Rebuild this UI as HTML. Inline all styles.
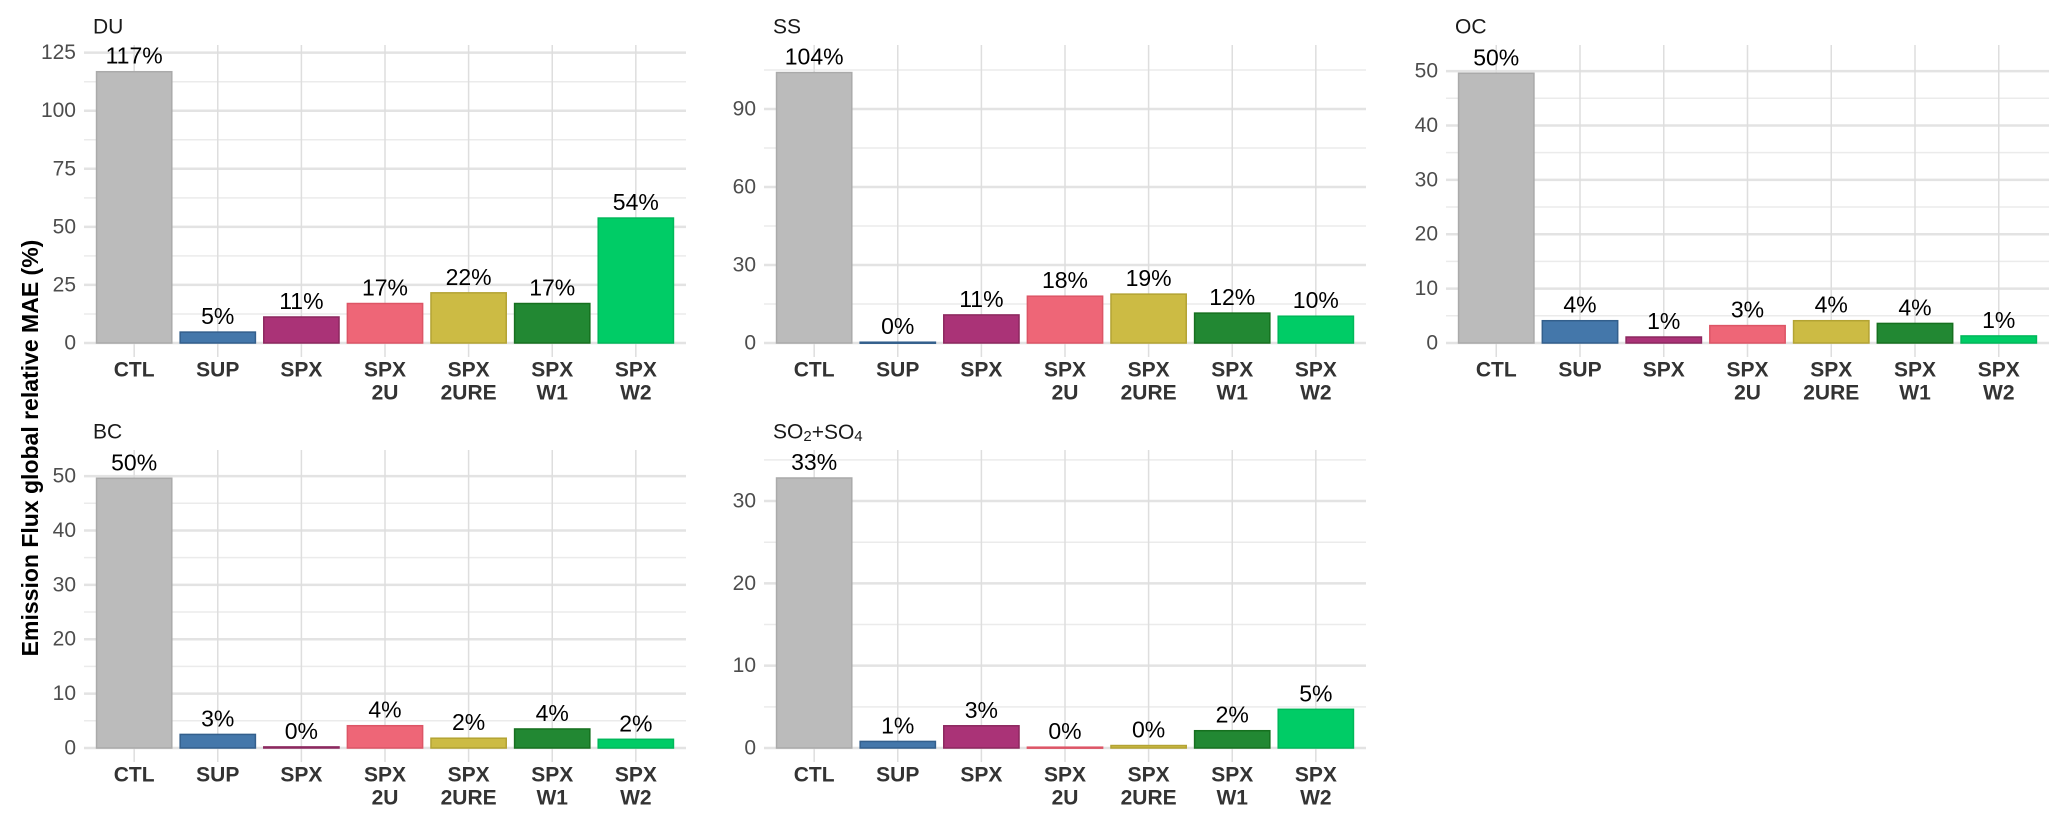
<!DOCTYPE html>
<html><head><meta charset="utf-8"><style>
html,body{margin:0;padding:0;background:#fff;}
svg{display:block;font-family:"Liberation Sans Narrow","Liberation Sans",sans-serif;}
</style></head><body>
<svg id="chart" width="2067" height="825" viewBox="0 0 2067 825">
<text x="30" y="448" transform="rotate(-90 30 448)" text-anchor="middle" dominant-baseline="central" font-family="Liberation Sans, sans-serif" font-weight="bold" font-size="23" fill="#000">Emission Flux global relative MAE (%)</text>
</svg>
<script>
const categories = ["CTL","SUP","SPX","SPX\n2U","SPX\n2URE","SPX\nW1","SPX\nW2"];
const colors = ["#bbbbbb","#4477aa","#aa3377","#ee6677","#ccbb44","#228833","#00cc66"];
const strokes = ["#aaaaaa","#335f8c","#8c285f","#dd5566","#b3a333","#16701f","#00b85a"];
const panelTitles = ["DU","SS","OC","BC","SO2+SO4"];
const duValues = [116.8,4.7,11.2,17.0,21.6,17.0,53.8];
const ssValues = [104.0,0.3,10.8,18.0,18.8,11.5,10.3];
const ocValues = [49.6,4.1,1.1,3.2,4.1,3.6,1.3];
const bcValues = [49.6,2.5,0.2,4.1,1.8,3.5,1.6];
const soValues = [32.8,0.8,2.7,0.1,0.3,2.1,4.7];
const duTicks = [0,25,50,75,100,125];
const ssTicks = [0,30,60,90];
const ocTicks = [0,10,20,30,40,50];
const bcTicks = [0,10,20,30,40,50];
const soTicks = [0,10,20,30];
const yMaxes = [128.3,114.6,54.8,54.8,36.2];

const NS="http://www.w3.org/2000/svg";
const svg=document.getElementById('chart');
function mk(tag,attrs,parent){const e=document.createElementNS(NS,tag);for(const k in attrs)e.setAttribute(k,attrs[k]);(parent||svg).appendChild(e);return e;}

const layout=[{l:84,r:686,top:45,zero:343},{l:764,r:1366,top:45,zero:343},{l:1446,r:2049,top:45,zero:343},{l:84,r:686,top:450,zero:748},{l:764,r:1366,top:450,zero:748}];
const allValues=[duValues,ssValues,ocValues,bcValues,soValues];
const allTicks=[duTicks,ssTicks,ocTicks,bcTicks,soTicks];
const names=["du","ss","oc","bc","so2-so4"];

layout.forEach((p,pi)=>{
  const g=mk('g',{});
  
  
  const vals=allValues[pi], ticks=allTicks[pi], ymax=yMaxes[pi];
  const y=v=>p.zero-(v/ymax)*(p.zero-p.top);
  const n=categories.length, step=(p.r-p.l)/(n-1+1.2);
  const x=i=>p.l+step*(0.6+i);
  // minor grid
  for(let t=0;t<ticks.length;t++){
    const d=ticks[1]-ticks[0];
    const mv=ticks[t]+d/2;
    if(y(mv)>p.top){mk('line',{x1:p.l,x2:p.r,y1:y(mv),y2:y(mv),stroke:'#ebebeb','stroke-width':1.5},g);}
  }
  ticks.forEach(t=>{
    const ln=mk('line',{x1:p.l,x2:p.r,y1:y(t),y2:y(t),stroke:'#e3e3e3','stroke-width':2.5},g);
    
    
    const tx=mk('text',{x:p.l-8,y:y(t),'text-anchor':'end','dominant-baseline':'central','font-size':21,fill:'#4d4d4d'},g);
    tx.textContent=t;
    
    
  });
  categories.forEach((c,i)=>{
    mk('line',{x1:x(i),x2:x(i),y1:p.top,y2:p.zero+14,stroke:'#dedede','stroke-width':1.5},g);
  });
  // title
  const tt=mk('text',{x:p.l+9,y:p.top-18,'font-size':21,fill:'#1a1a1a','dominant-baseline':'central'},g);
  if(panelTitles[pi]==="SO2+SO4"){
    tt.innerHTML='SO<tspan font-size="15" dy="4">2</tspan><tspan dy="-4">+SO</tspan><tspan font-size="15" dy="4">4</tspan>';
  } else tt.textContent=panelTitles[pi];
  
  
  const bw=step*0.9;
  vals.forEach((v,i)=>{
    const top=y(v);
    const r=mk('rect',{x:x(i)-bw/2,y:top,width:bw,height:Math.max(p.zero-top,1),fill:colors[i],stroke:strokes[i],'stroke-width':1.5},g);
    
    
    const lb=mk('text',{x:x(i),y:top-8,'text-anchor':'middle','font-size':23,fill:'#000'},g);
    lb.textContent=Math.round(v)+'%';
    
    
    const parts=categories[i].split('\n');
    parts.forEach((s,k)=>{
      const xl=mk('text',{x:x(i),y:p.zero+27+k*23,'text-anchor':'middle','dominant-baseline':'central','font-size':21,'font-weight':'bold',fill:'#333'},g);
      xl.textContent=s;
      
      
    });
  });
});
</script>
</body></html>
